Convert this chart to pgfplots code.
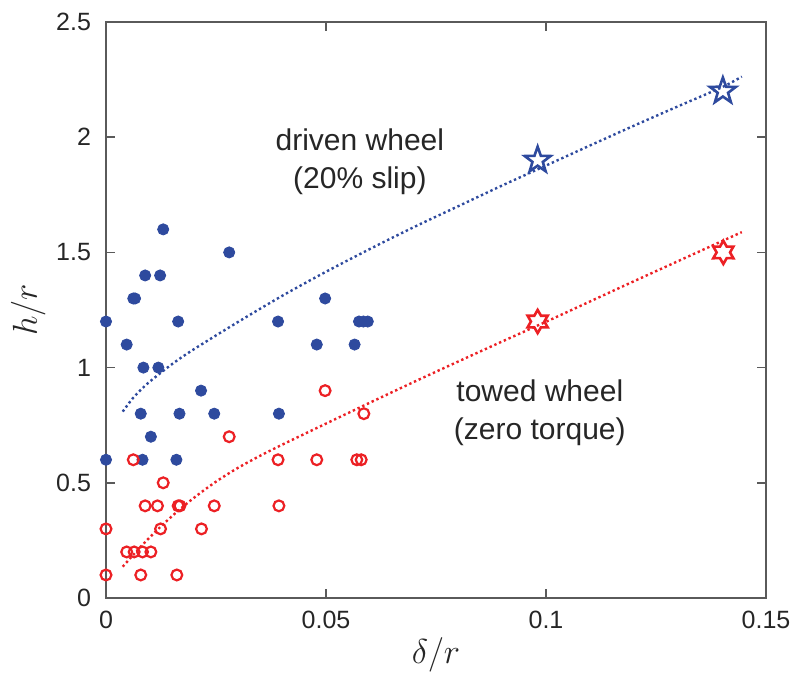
\documentclass[border=0pt]{standalone}
\usepackage{fontspec}
\setmainfont{Liberation Sans}
\usepackage{pgfplots}
\pgfplotsset{compat=1.18}

\definecolor{dblue}{RGB}{46,74,158}
\definecolor{dred}{RGB}{236,32,36}
\definecolor{axgray}{RGB}{90,90,90}

\pgfdeclareplotmark{ostarfive}{%
  \pgfpathmoveto{\pgfpointpolar{90}{\pgfplotmarksize}}%
  \pgfpathlineto{\pgfpointpolar{126}{0.40\pgfplotmarksize}}%
  \pgfpathlineto{\pgfpointpolar{162}{\pgfplotmarksize}}%
  \pgfpathlineto{\pgfpointpolar{198}{0.40\pgfplotmarksize}}%
  \pgfpathlineto{\pgfpointpolar{234}{\pgfplotmarksize}}%
  \pgfpathlineto{\pgfpointpolar{270}{0.40\pgfplotmarksize}}%
  \pgfpathlineto{\pgfpointpolar{306}{\pgfplotmarksize}}%
  \pgfpathlineto{\pgfpointpolar{342}{0.40\pgfplotmarksize}}%
  \pgfpathlineto{\pgfpointpolar{18}{\pgfplotmarksize}}%
  \pgfpathlineto{\pgfpointpolar{54}{0.40\pgfplotmarksize}}%
  \pgfpathclose
  \pgfusepathqstroke}

\pgfdeclareplotmark{ostarsix}{%
  \pgfpathmoveto{\pgfpointpolar{90}{\pgfplotmarksize}}%
  \pgfpathlineto{\pgfpointpolar{120}{0.577\pgfplotmarksize}}%
  \pgfpathlineto{\pgfpointpolar{150}{\pgfplotmarksize}}%
  \pgfpathlineto{\pgfpointpolar{180}{0.577\pgfplotmarksize}}%
  \pgfpathlineto{\pgfpointpolar{210}{\pgfplotmarksize}}%
  \pgfpathlineto{\pgfpointpolar{240}{0.577\pgfplotmarksize}}%
  \pgfpathlineto{\pgfpointpolar{270}{\pgfplotmarksize}}%
  \pgfpathlineto{\pgfpointpolar{300}{0.577\pgfplotmarksize}}%
  \pgfpathlineto{\pgfpointpolar{330}{\pgfplotmarksize}}%
  \pgfpathlineto{\pgfpointpolar{0}{0.577\pgfplotmarksize}}%
  \pgfpathlineto{\pgfpointpolar{30}{\pgfplotmarksize}}%
  \pgfpathlineto{\pgfpointpolar{60}{0.577\pgfplotmarksize}}%
  \pgfpathclose
  \pgfusepathqstroke}

\begin{document}
\begin{tikzpicture}
\begin{axis}[
  name=ax,
  width=330pt, height=288pt, scale only axis,
  xmin=0, xmax=0.15, ymin=0, ymax=2.5,
  xtick={0,0.05,0.1,0.15}, xticklabels={0,0.05,0.1,0.15},
  ytick={0,0.5,1,1.5,2,2.5}, yticklabels={0,0.5,1,1.5,2,2.5},
  tick align=inside,
  major tick length=4.5pt,
  axis line style={axgray, line width=0.8pt},
  every tick/.style={axgray, line width=0.8pt},
  ticklabel style={font=\fontsize{12.5}{14}\selectfont, text=black!85},
  xticklabel style={yshift=-3pt},
  yticklabel style={xshift=-4pt},
  xlabel={$\delta/r$}, ylabel={$h/r$},
  label style={font=\fontsize{17}{20}\selectfont, text=black!85},
  xlabel style={at={(axis description cs:0.5,-0.099)}, anchor=center},
  ylabel style={at={(axis description cs:-0.118,0.5)}, anchor=center},
  clip=false,
]
% fitted curves
\addplot[dblue, line width=1.2pt, dash pattern=on 1.2pt off 1.4pt, smooth, mark=none] coordinates {
 (0.0038,0.809) (0.006,0.865) (0.008,0.905) (0.010,0.940) (0.015,1.015)
 (0.020,1.080) (0.030,1.198) (0.040,1.311) (0.050,1.416) (0.060,1.515)
 (0.070,1.610) (0.080,1.700) (0.090,1.790) (0.100,1.877) (0.110,1.964)
 (0.120,2.050) (0.130,2.134) (0.140,2.217) (0.1445,2.263)
};
\addplot[dred, line width=1.2pt, dash pattern=on 1.2pt off 1.4pt, smooth, mark=none] coordinates {
 (0.0038,0.136) (0.008,0.225) (0.012,0.302) (0.016,0.372) (0.020,0.435)
 (0.025,0.505) (0.030,0.565) (0.035,0.617) (0.040,0.665) (0.050,0.757)
 (0.060,0.848) (0.070,0.938) (0.080,1.026) (0.090,1.113) (0.100,1.199)
 (0.110,1.287) (0.120,1.375) (0.130,1.462) (0.140,1.549) (0.1445,1.588)
};
% driven wheel data
\addplot[only marks, mark=*, mark size=2.8pt, dblue, mark options={draw=dblue, fill=dblue}] coordinates {
 (0,1.2) (0,0.6) (0.0047,1.1) (0.0062,1.3) (0.0066,1.3) (0.0085,1.0) (0.0089,1.4)
 (0.0079,0.8) (0.0083,0.6) (0.0102,0.7) (0.0119,1.0) (0.0123,1.4) (0.0130,1.6)
 (0.0164,1.2) (0.0167,0.8) (0.0160,0.6) (0.0216,0.9) (0.0246,0.8) (0.0280,1.5)
 (0.0391,1.2) (0.0393,0.8) (0.0479,1.1) (0.0498,1.3) (0.0565,1.1)
 (0.0575,1.2) (0.0585,1.2) (0.0595,1.2)
};
% towed wheel data
\addplot[only marks, mark=o, mark size=2.7pt, dred, line width=1.1pt] coordinates {
 (0,0.3) (0,0.1) (0.0047,0.2) (0.0064,0.2) (0.0083,0.2) (0.0102,0.2)
 (0.0079,0.1) (0.0161,0.1) (0.0062,0.6) (0.0089,0.4) (0.0117,0.4)
 (0.0164,0.4) (0.0168,0.4) (0.0124,0.3) (0.0130,0.5) (0.0217,0.3)
 (0.0246,0.4) (0.0280,0.7) (0.0393,0.4) (0.0391,0.6) (0.0479,0.6)
 (0.0498,0.9) (0.0570,0.6) (0.0580,0.6) (0.0586,0.8)
};
% stars
\addplot[only marks, mark=ostarfive, mark size=6.8pt, dblue, line width=1.3pt] coordinates {
 (0.0981,1.9) (0.1402,2.2)
};
\addplot[only marks, mark=ostarsix, mark size=5.8pt, dred, line width=1.3pt] coordinates {
 (0.0981,1.2) (0.1403,1.5)
};
\node[align=center, font=\fontsize{15}{19}\selectfont, text=black!85] at (axis cs:0.0577,1.892) {driven wheel\\(20\% slip)};
\node[align=center, font=\fontsize{15}{19}\selectfont, text=black!85] at (axis cs:0.0986,0.803) {towed wheel\\(zero torque)};
\end{axis}
\pgfresetboundingbox
\path ([shift={(-53pt,-46pt)}]ax.south west) rectangle ([shift={(12pt,11pt)}]ax.north east);
\end{tikzpicture}
\end{document}
